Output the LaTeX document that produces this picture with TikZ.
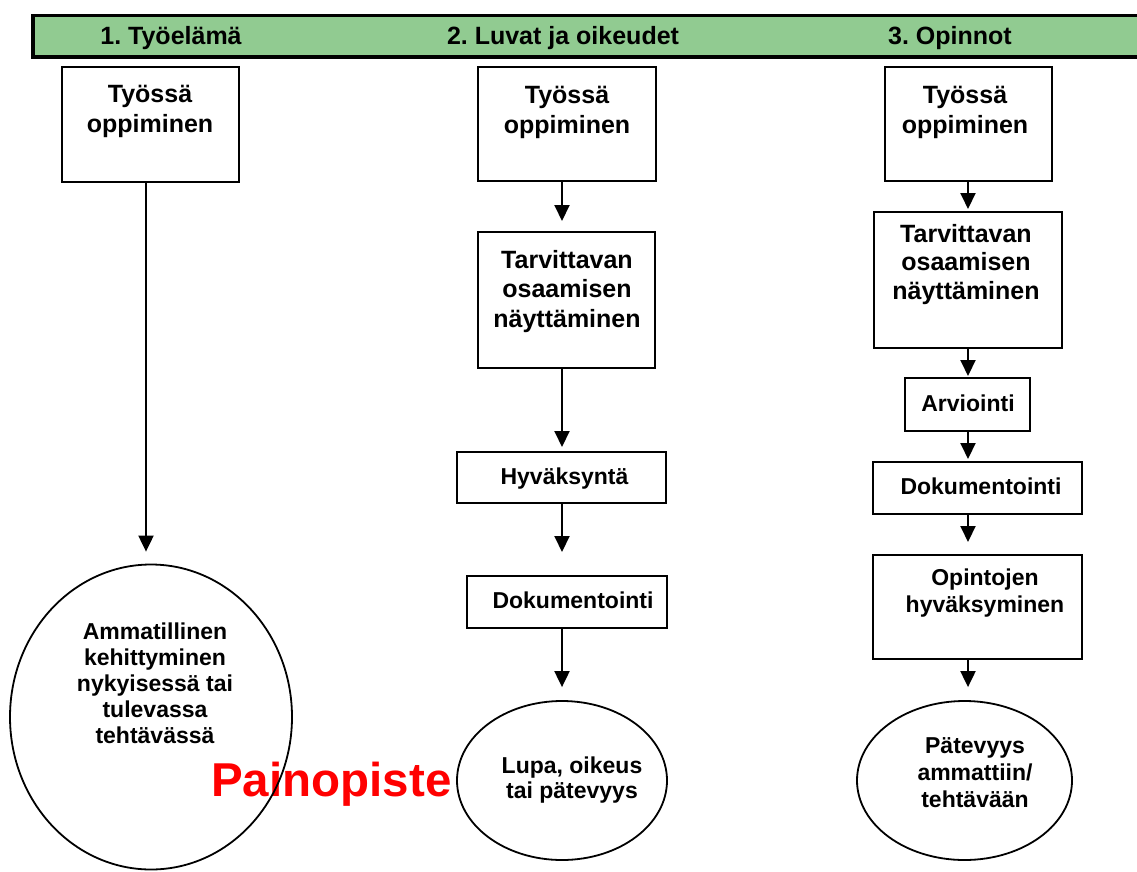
\documentclass[tikz,border=0pt]{standalone}
\usepackage{fontspec}
\setmainfont{Liberation Sans}
\usetikzlibrary{arrows.meta,shapes.geometric,calc}
\definecolor{hdrgreen}{RGB}{145,203,145}
\definecolor{pred}{RGB}{255,0,0}
\frenchspacing
\begin{document}
\begin{tikzpicture}[x=1pt,y=-1pt,
  box/.style={draw, line width=2pt, inner sep=0pt},
  oval/.style={draw, ellipse, line width=1.8pt, inner sep=0pt},
  big/.style={font=\bfseries\fontsize{25}{29.5}\selectfont, align=center, anchor=base, inner sep=0pt},
  small/.style={font=\bfseries\fontsize{23}{26.5}\selectfont, align=center, anchor=base, inner sep=0pt},
  arr/.style={line width=2pt, -{Triangle[width=15pt,length=16pt]}},
]
\useasboundingbox (0,0) rectangle (1137,872);

% header bar
\node[draw, line width=3.5pt, fill=hdrgreen, minimum width=1120pt, minimum height=41.5pt,
      anchor=north west, inner sep=0pt] (hdr) at (31,14) {};
\node[big] (h1) at (171,45) {1. Työelämä};
\node[big] (h2) at (563,45) {2. Luvat ja oikeudet};
\node[big] (h3) at (950,45) {3. Opinnot};

% column coordinates for connectors
\coordinate (c1) at (146,0);
\coordinate (c2) at (562,0);
\coordinate (c3) at (968,0);

% ---------- column 1
\node[box, minimum width=177pt, minimum height=115pt] (b11) at (150.5,124.5) {};
\node[big] (t11) at (150,132) {Työssä\\oppiminen};
\node[font=\bfseries\fontsize{47.5}{50}\selectfont, text=pred, anchor=base west, inner sep=0pt]
      (pp) at (211,796) {Painopiste};
\node[oval, minimum width=282pt, minimum height=305pt] (e12) at (151,717) {};
\node[small, font=\bfseries\fontsize{23}{26}\selectfont] (t12) at (155,743)
      {Ammatillinen\\kehittyminen\\nykyisessä tai\\tulevassa\\tehtävässä};
\draw[arr, shorten >=12pt] (b11.south -| c1) -- (e12.north -| c1);

% ---------- column 2
\node[box, minimum width=178pt, minimum height=114pt] (b21) at (567,124) {};
\node[big] (t21) at (567,133) {Työssä\\oppiminen};
\node[box, minimum width=177pt, minimum height=136pt] (b22) at (566.5,300) {};
\node[big] (t22) at (567,327) {Tarvittavan\\osaamisen\\näyttäminen};
\node[box, minimum width=209pt, minimum height=51pt] (b23) at (561.5,477.5) {};
\node[small] (t23) at (564.5,484) {Hyväksyntä};
\node[box, minimum width=200pt, minimum height=52pt] (b24) at (567,602) {};
\node[small] (t24) at (573,608) {Dokumentointi};
\node[oval, minimum width=210pt, minimum height=159pt] (e25) at (562,780.5) {};
\node[small, font=\bfseries\fontsize{23}{25}\selectfont] (t25) at (572,798) {Lupa, oikeus\\tai pätevyys};

\draw[arr, shorten >=10pt] (b21.south -| c2) -- (b22.north -| c2);
\draw[arr, shorten >=4pt] (b22.south -| c2) -- (b23.north -| c2);
\draw[arr, shorten >=23pt] (b23.south -| c2) -- (b24.north -| c2);
\draw[arr, shorten >=13pt] (b24.south -| c2) -- (e25.north -| c2);

% ---------- column 3
\node[box, minimum width=167pt, minimum height=114pt] (b31) at (968.5,124) {};
\node[big] (t31) at (965,133) {Työssä\\oppiminen};
\node[box, minimum width=188pt, minimum height=136pt] (b32) at (968,280) {};
\node[big, font=\bfseries\fontsize{25}{28.5}\selectfont] (t32) at (966,299) {Tarvittavan\\osaamisen\\näyttäminen};
\node[box, minimum width=125pt, minimum height=53pt] (b33) at (967.5,404.5) {};
\node[small] (t33) at (968,411) {Arviointi};
\node[box, minimum width=209pt, minimum height=52pt] (b34) at (977.5,488) {};
\node[small] (t34) at (981,494) {Dokumentointi};
\node[box, minimum width=209pt, minimum height=104pt] (b35) at (977.5,607) {};
\node[small, font=\bfseries\fontsize{23}{27}\selectfont] (t35) at (985,612) {Opintojen\\hyväksyminen};
\node[oval, minimum width=215pt, minimum height=159pt] (e36) at (964.5,780.5) {};
\node[small, font=\bfseries\fontsize{23}{27}\selectfont] (t36) at (975,807) {Pätevyys\\ammattiin/\\tehtävään};

\draw[arr, shorten >=2pt] (b31.south -| c3) -- (b32.north -| c3);
\draw[arr, shorten >=1pt] (b32.south -| c3) -- (b33.north -| c3);
\draw[arr, shorten >=2pt] (b33.south -| c3) -- (b34.north -| c3);
\draw[arr, shorten >=12pt] (b34.south -| c3) -- (b35.north -| c3);
\draw[arr, shorten >=13pt] (b35.south -| c3) -- (e36.north -| c3);
\end{tikzpicture}
\end{document}
